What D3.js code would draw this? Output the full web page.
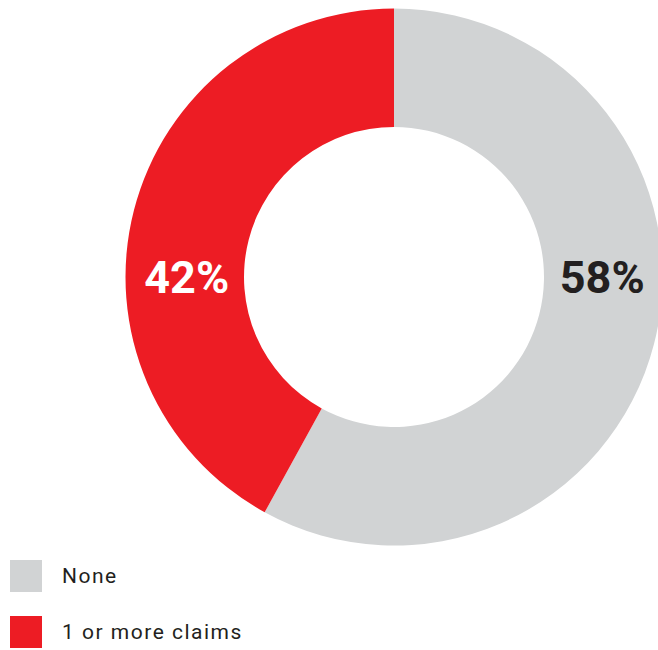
<!DOCTYPE html>
<html>
<head>
<meta charset="utf-8">
<script src="https://cdn.jsdelivr.net/npm/d3@7"></script>
<style>
  html, body { margin: 0; padding: 0; background: #fff; }
  svg { display: block; }
</style>
</head>
<body>
<svg id="chart" width="658" height="650"></svg>
<script>
// Share of policies by number of claims
const categories = ["None", "1 or more claims"];
const shares = [58, 42];
const colors = ["#D1D3D4", "#ED1C24"];
const labelColors = ["#231F20", "#FFFFFF"];
// label direction (radians, clockwise from 12 o'clock) for each slice
const labelAngles = [Math.PI / 2, -Math.PI / 2];

const svg = d3.select("#chart");
const cx = 394, cy = 277;
const outerR = 268.5, innerR = 150;

const pie = d3.pie().sort(null).value(d => d.value);
const arc = d3.arc().innerRadius(innerR).outerRadius(outerR);

const data = categories.map((c, i) => ({ name: c, value: shares[i], i }));
const arcs = pie(data);

const g = svg.append("g").attr("transform", `translate(${cx},${cy})`);

g.selectAll("path.slice")
  .data(arcs)
  .join("path")
  .attr("class", "slice")
  .attr("d", arc)
  .attr("fill", d => colors[d.data.i]);

const midR = (innerR + outerR) / 2;
g.selectAll("text.pct")
  .data(arcs)
  .join("text")
  .attr("class", "pct")
  .attr("x", d => midR * Math.sin(labelAngles[d.data.i]) + (d.data.i ? 2 : -1))
  .attr("y", d => -midR * Math.cos(labelAngles[d.data.i]))
  .attr("dy", "0.36em")
  .attr("text-anchor", "middle")
  .attr("font-family", "Roboto, 'DejaVu Sans', sans-serif")
  .attr("font-weight", "bold")
  .attr("font-size", 45)
  .attr("fill", d => labelColors[d.data.i])
  .text(d => d.data.value + "%");

// Legend
const legend = svg.append("g").attr("transform", "translate(10,560)");
const item = legend.selectAll("g.item")
  .data(data)
  .join("g")
  .attr("class", "item")
  .attr("transform", (d, i) => `translate(0,${i * 56})`);

item.append("rect")
  .attr("width", 32)
  .attr("height", 32)
  .attr("fill", d => colors[d.i]);

item.append("text")
  .attr("x", 52)
  .attr("y", 23)
  .attr("font-family", "Roboto, 'DejaVu Sans', sans-serif")
  .attr("font-size", 21)
  .attr("letter-spacing", 1.5)
  .attr("fill", "#231F20")
  .text(d => d.name);
</script>
</body>
</html>
